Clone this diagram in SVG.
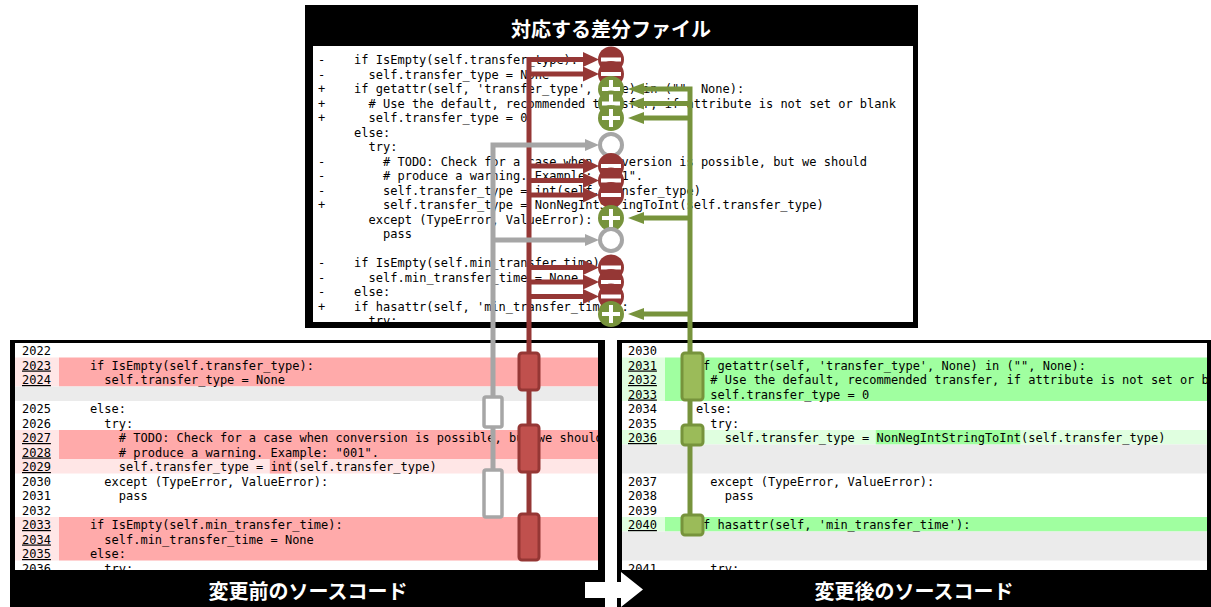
<svg xmlns="http://www.w3.org/2000/svg" width="1211" height="607" viewBox="0 0 1211 607">
  <style>
    .code { font-family: "DejaVu Sans Mono", "Liberation Mono", monospace; font-size: 12px; fill: #000; }
    .ln { font-family: "DejaVu Sans Mono", "Liberation Mono", monospace; font-size: 12px; fill: #000; }
    .lnu { text-decoration: underline; }
    .title { font-family: "Noto Sans CJK JP", "Noto Sans", sans-serif; font-size: 20px; font-weight: bold; fill: #fff; }
    .redbox { fill: #C0504D; stroke: #953735; stroke-width: 3; }
    .greenbox { fill: #9BBB59; stroke: #77933C; stroke-width: 3; }
    .graybox { fill: #fff; stroke: #A6A6A6; stroke-width: 3.5; }
    .redline { stroke: #953735; stroke-width: 5; fill: none; }
    .greenline { stroke: #77933C; stroke-width: 5; fill: none; }
    .grayline { stroke: #A6A6A6; stroke-width: 5; fill: none; }
  </style>
  <defs>
    <clipPath id="clipTop"><rect x="313" y="46" width="600" height="276"/></clipPath>
    <clipPath id="clipLeft"><rect x="15" y="343" width="583" height="227"/></clipPath>
    <clipPath id="clipRight"><rect x="622" y="343" width="585" height="227"/></clipPath>
    <g id="minus">
      <circle r="13" fill="#953735"/>
      <rect x="-10" y="-2" width="20" height="4" fill="#fff"/>
    </g>
    <g id="plus">
      <circle r="13" fill="#77933C"/>
      <rect x="-9" y="-2" width="18" height="4" fill="#fff"/>
      <rect x="-2" y="-9" width="4" height="18" fill="#fff"/>
    </g>
    <g id="ring">
      <circle r="11" fill="#fff" stroke="#A6A6A6" stroke-width="4"/>
    </g>
  </defs>

  <rect width="1211" height="607" fill="#fff"/>

  <!-- diff file panel -->
  <g id="diff-panel">
    <rect x="305" y="5" width="613" height="323" fill="#000"/>
    <rect x="313" y="46" width="600" height="276" fill="#fff"/>
    <text class="title" x="611" y="37" text-anchor="middle" font-size="21">対応する差分ファイル</text>
    <g clip-path="url(#clipTop)" class="code">
      <!-- +/- markers -->
      <text x="318" y="64">-</text>
      <text x="318" y="78.5">-</text>
      <text x="318" y="93">+</text>
      <text x="318" y="107.5">+</text>
      <text x="318" y="122">+</text>
      <text x="318" y="165.5">-</text>
      <text x="318" y="180">-</text>
      <text x="318" y="194.5">-</text>
      <text x="318" y="209">+</text>
      <text x="318" y="267">-</text>
      <text x="318" y="281.5">-</text>
      <text x="318" y="296">-</text>
      <text x="318" y="310.5">+</text>
      <!-- hunk body -->
      <text x="354.1" y="64">if IsEmpty(self.transfer_type):</text>
      <text x="368.6" y="78.5">self.transfer_type = None</text>
      <text x="354.1" y="93">if getattr(self, 'transfer_type', None) in ("", None):</text>
      <text x="368.6" y="107.5"># Use the default, recommended transfer, if attribute is not set or blank</text>
      <text x="368.6" y="122">self.transfer_type = 0</text>
      <text x="354.1" y="136.5">else:</text>
      <text x="368.6" y="151">try:</text>
      <text x="383" y="165.5"># TODO: Check for a case when conversion is possible, but we should</text>
      <text x="383" y="180"># produce a warning. Example: "001".</text>
      <text x="383" y="194.5">self.transfer_type = int(self.transfer_type)</text>
      <text x="383" y="209">self.transfer_type = NonNegIntStringToInt(self.transfer_type)</text>
      <text x="368.6" y="223.5">except (TypeError, ValueError):</text>
      <text x="383" y="238">pass</text>
      <text x="354.1" y="267">if IsEmpty(self.min_transfer_time):</text>
      <text x="368.6" y="281.5">self.min_transfer_time = None</text>
      <text x="354.1" y="296">else:</text>
      <text x="354.1" y="310.5">if hasattr(self, 'min_transfer_time'):</text>
      <text x="368.6" y="325">try:</text>
    </g>
  </g>

  <!-- source before change -->
  <g id="before-panel">
    <rect x="10" y="340" width="595" height="267" fill="#000"/>
    <rect x="15" y="343" width="583" height="227" fill="#fff"/>
    <g clip-path="url(#clipLeft)">
      <rect x="15" y="357.5" width="44" height="29" fill="#FFE6E6"/>
      <rect x="59" y="357.5" width="539" height="29" fill="#FFAAAA"/>
      <rect x="15" y="386.5" width="583" height="14.5" fill="#EBEBEB"/>
      <rect x="15" y="430" width="44" height="29" fill="#FFE6E6"/>
      <rect x="59" y="430" width="539" height="29" fill="#FFAAAA"/>
      <rect x="15" y="459" width="583" height="14.5" fill="#FFE6E6"/>
      <rect x="269.8" y="459" width="21.6" height="14.5" fill="#FFAAAA"/>
      <rect x="15" y="517" width="44" height="43.5" fill="#FFE6E6"/>
      <rect x="59" y="517" width="539" height="43.5" fill="#FFAAAA"/>
      <g class="ln">
        <text x="22" y="355">2022</text>
        <text x="22" y="369.5" class="lnu">2023</text>
        <text x="22" y="384" class="lnu">2024</text>
        <text x="22" y="413">2025</text>
        <text x="22" y="427.5">2026</text>
        <text x="22" y="442" class="lnu">2027</text>
        <text x="22" y="456.5" class="lnu">2028</text>
        <text x="22" y="471" class="lnu">2029</text>
        <text x="22" y="485.5">2030</text>
        <text x="22" y="500">2031</text>
        <text x="22" y="514.5">2032</text>
        <text x="22" y="529" class="lnu">2033</text>
        <text x="22" y="543.5" class="lnu">2034</text>
        <text x="22" y="558" class="lnu">2035</text>
        <text x="22" y="572.5">2036</text>
      </g>
      <g class="code">
        <text x="89.9" y="369.5">if IsEmpty(self.transfer_type):</text>
        <text x="104.3" y="384">self.transfer_type = None</text>
        <text x="89.9" y="413">else:</text>
        <text x="104.3" y="427.5">try:</text>
        <text x="118.8" y="442"># TODO: Check for a case when conversion is possible, but we should</text>
        <text x="118.8" y="456.5"># produce a warning. Example: "001".</text>
        <text x="118.8" y="471">self.transfer_type = int(self.transfer_type)</text>
        <text x="104.3" y="485.5">except (TypeError, ValueError):</text>
        <text x="118.8" y="500">pass</text>
        <text x="89.9" y="529">if IsEmpty(self.min_transfer_time):</text>
        <text x="104.3" y="543.5">self.min_transfer_time = None</text>
        <text x="89.9" y="558">else:</text>
        <text x="104.3" y="572.5">try:</text>
      </g>
    </g>
    <text class="title" x="308" y="599" text-anchor="middle">変更前のソースコード</text>
  </g>

  <!-- source after change -->
  <g id="after-panel">
    <rect x="617" y="340" width="594" height="267" fill="#000"/>
    <rect x="622" y="343" width="585" height="227" fill="#fff"/>
    <g clip-path="url(#clipRight)">
      <rect x="622" y="357.5" width="43" height="43.5" fill="#E0FFE0"/>
      <rect x="665" y="357.5" width="542" height="43.5" fill="#A0FFA0"/>
      <rect x="622" y="430" width="585" height="14.5" fill="#E0FFE0"/>
      <rect x="875.8" y="430" width="144.5" height="14.5" fill="#A0FFA0"/>
      <rect x="622" y="444.5" width="585" height="29" fill="#EBEBEB"/>
      <rect x="622" y="517" width="43" height="14.5" fill="#E0FFE0"/>
      <rect x="665" y="517" width="542" height="14.5" fill="#A0FFA0"/>
      <rect x="622" y="531.5" width="585" height="29" fill="#EBEBEB"/>
      <g class="ln">
        <text x="628" y="355">2030</text>
        <text x="628" y="369.5" class="lnu">2031</text>
        <text x="628" y="384" class="lnu">2032</text>
        <text x="628" y="398.5" class="lnu">2033</text>
        <text x="628" y="413">2034</text>
        <text x="628" y="427.5">2035</text>
        <text x="628" y="442" class="lnu">2036</text>
        <text x="628" y="485.5">2037</text>
        <text x="628" y="500">2038</text>
        <text x="628" y="514.5">2039</text>
        <text x="628" y="529" class="lnu">2040</text>
        <text x="628" y="572.5">2041</text>
      </g>
      <g class="code">
        <text x="695.9" y="369.5">if getattr(self, 'transfer_type', None) in ("", None):</text>
        <text x="710.3" y="384"># Use the default, recommended transfer, if attribute is not set or blank</text>
        <text x="710.3" y="398.5">self.transfer_type = 0</text>
        <text x="695.9" y="413">else:</text>
        <text x="710.3" y="427.5">try:</text>
        <text x="724.8" y="442">self.transfer_type = NonNegIntStringToInt(self.transfer_type)</text>
        <text x="710.3" y="485.5">except (TypeError, ValueError):</text>
        <text x="724.8" y="500">pass</text>
        <text x="695.9" y="529">if hasattr(self, 'min_transfer_time'):</text>
        <text x="710.3" y="572.5">try:</text>
      </g>
    </g>
    <text class="title" x="914" y="599" text-anchor="middle">変更後のソースコード</text>
  </g>

  <!-- block arrow: before -> after -->
  <g id="flow-arrow">
    <polygon points="585,582 621,582 621,572 643,589.5 621,607 621,598 585,598" fill="#fff"/>
  </g>

  <g id="connectors">
    <!-- deleted lines -->
    <path class="redline" d="M529 557 V59.5 H585 M529 74 H585 M529 166 H585 M529 180.5 H585 M529 195 H585 M529 267.5 H585 M529 282 H585 M529 296.5 H585"/>
    <g fill="#953735">
      <polygon points="583,52 599,59.5 583,67"/>
      <polygon points="583,66.5 599,74 583,81.5"/>
      <polygon points="583,158.5 599,166 583,173.5"/>
      <polygon points="583,173 599,180.5 583,188"/>
      <polygon points="583,187.5 599,195 583,202.5"/>
      <polygon points="583,260 599,267.5 583,275"/>
      <polygon points="583,274.5 599,282 583,289.5"/>
      <polygon points="583,289 599,296.5 583,304"/>
    </g>
    <!-- unchanged lines -->
    <path class="grayline" d="M493 517 V145 H588 M493 240 H588"/>
    <g fill="#A6A6A6">
      <polygon points="585,139 599,145 585,151"/>
      <polygon points="585,234 599,240 585,246"/>
    </g>
    <!-- added lines -->
    <path class="greenline" d="M690 530 V89 H640 M690 103.5 H640 M690 118 H640 M690 218 H640 M690 314 H640"/>
    <g fill="#77933C">
      <polygon points="644,83 628,89 644,95"/>
      <polygon points="644,97.5 628,103.5 644,109.5"/>
      <polygon points="644,112 628,118 644,124"/>
      <polygon points="644,212 628,218 644,224"/>
      <polygon points="644,308 628,314 644,320"/>
    </g>
    <!-- change markers -->
    <use href="#minus" x="611" y="59.5"/>
    <use href="#minus" x="611" y="74"/>
    <use href="#plus" x="611" y="89"/>
    <use href="#plus" x="611" y="103.5"/>
    <use href="#plus" x="611" y="118"/>
    <use href="#ring" x="611" y="145"/>
    <use href="#minus" x="611" y="166"/>
    <use href="#minus" x="611" y="180.5"/>
    <use href="#minus" x="611" y="195"/>
    <use href="#plus" x="611" y="218"/>
    <use href="#ring" x="611" y="240"/>
    <use href="#minus" x="611" y="267.5"/>
    <use href="#minus" x="611" y="282"/>
    <use href="#minus" x="611" y="296.5"/>
    <use href="#plus" x="611" y="314"/>
    <!-- hunks in the source views -->
    <rect class="graybox" x="484" y="397" width="18" height="30" rx="2"/>
    <rect class="graybox" x="484" y="470" width="18" height="47" rx="2"/>
    <rect class="redbox" x="519" y="353" width="20" height="37" rx="3"/>
    <rect class="redbox" x="519" y="425" width="20" height="47" rx="3"/>
    <rect class="redbox" x="519" y="514" width="20" height="46" rx="3"/>
    <rect class="greenbox" x="682" y="353" width="21" height="47" rx="3"/>
    <rect class="greenbox" x="682" y="425" width="21" height="20" rx="3"/>
    <rect class="greenbox" x="682" y="515" width="21" height="20" rx="3"/>
  </g>
</svg>
